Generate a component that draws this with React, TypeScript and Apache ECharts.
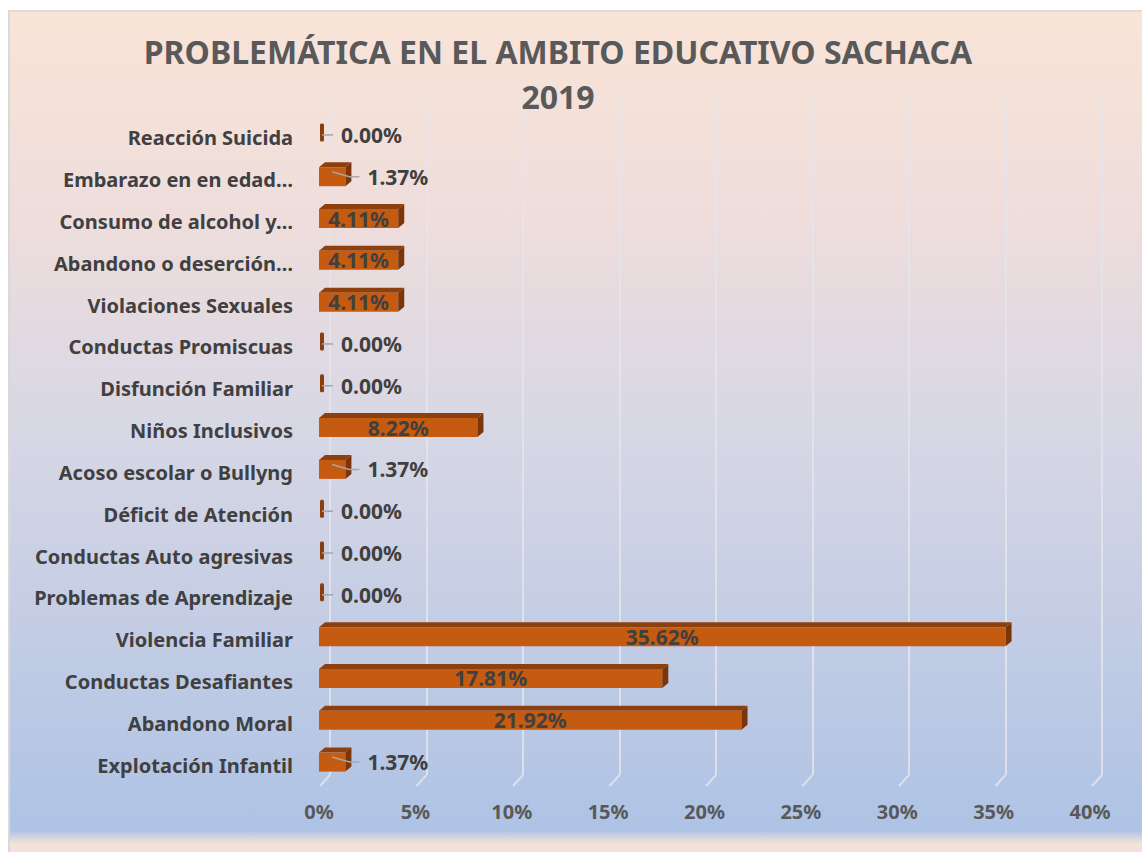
import React, { useEffect, useRef } from "react";
import * as echarts from "echarts";

const titleText = "PROBLEMÁTICA EN EL AMBITO EDUCATIVO SACHACA\n2019";

// bottom -> top
const categories = [
  "Explotación Infantil",
  "Abandono Moral",
  "Conductas Desafiantes",
  "Violencia Familiar",
  "Problemas de Aprendizaje",
  "Conductas Auto agresivas",
  "Déficit de Atención",
  "Acoso escolar o Bullyng",
  "Niños Inclusivos",
  "Disfunción Familiar",
  "Conductas Promiscuas",
  "Violaciones Sexuales",
  "Abandono o deserción…",
  "Consumo de alcohol y…",
  "Embarazo en en edad…",
  "Reacción Suicida",
];

const values = [1.37, 21.92, 17.81, 35.62, 0, 0, 0, 1.37, 8.22, 0, 0, 4.11, 4.11, 4.11, 1.37, 0];

const xTicks = [0, 5, 10, 15, 20, 25, 30, 35, 40];

const FONT = "'Noto Sans', 'DejaVu Sans', sans-serif";

export default function App() {
  const ref = useRef<HTMLDivElement>(null);

  useEffect(() => {
    document.body.style.margin = "0";
    const chart = echarts.init(ref.current!, undefined, { renderer: "svg" });

    const option: any = {
      animation: false,
      backgroundColor: "transparent",
      title: {
        text: titleText,
        left: 553,
        top: 24,
        textAlign: "center",
        textStyle: {
          fontFamily: FONT,
          fontSize: 32,
          fontWeight: "bold",
          color: "#595959",
          lineHeight: 45,
        },
      },
      grid: [
        { left: 319, right: 52, top: 117, bottom: 66 },
        { left: 330, right: 40, top: 100, bottom: 77 },
      ],
      xAxis: [
        {
          gridIndex: 0,
          type: "value",
          min: 0,
          max: 40,
          interval: 5,
          axisLine: { show: false },
          axisTick: { show: false },
          splitLine: { show: false },
          axisLabel: {
            formatter: "{value}%",
            fontFamily: FONT,
            fontSize: 20,
            fontWeight: "bold",
            color: "#595959",
            margin: 15,
          },
        },
        {
          gridIndex: 1,
          type: "value",
          min: 0,
          max: 40,
          interval: 5,
          axisLine: { show: false },
          axisTick: { show: false },
          axisLabel: { show: false },
          splitLine: {
            show: true,
            lineStyle: { color: "rgba(228,228,236,0.85)", width: 2 },
          },
        },
      ],
      yAxis: [
        {
          gridIndex: 0,
          type: "category",
          data: categories,
          axisLine: { show: false },
          axisTick: { show: false },
          splitLine: { show: false },
          axisLabel: {
            fontFamily: FONT,
            fontSize: 20,
            fontWeight: "bold",
            color: "#404040",
            margin: 26,
          },
        },
        {
          gridIndex: 1,
          type: "value",
          min: 0,
          max: 1,
          show: false,
        },
      ],
      series: [
        {
          type: "custom",
          xAxisIndex: 1,
          yAxisIndex: 1,
          data: xTicks.map((t) => [t, 0]),
          renderItem: (params: any, api: any) => {
            const p = api.coord([api.value(0), 0]);
            return {
              type: "line",
              shape: { x1: p[0], y1: p[1], x2: p[0] - 10, y2: p[1] + 11 },
              style: { stroke: "rgba(228,228,236,0.85)", lineWidth: 2 },
            };
          },
          silent: true,
          z: 1,
        },
        {
          type: "custom",
          xAxisIndex: 0,
          yAxisIndex: 0,
          data: values.map((v, i) => [i, v]),
          encode: { x: 1, y: 0 },
          z: 5,
          renderItem: (params: any, api: any) => {
            const cat = api.value(0);
            const v = api.value(1);
            const s = api.coord([0, cat]);
            const e = api.coord([v, cat]);
            const cy = s[1];
            const x0 = s[0];
            const x1 = e[0];
            const h = 19;
            const top = cy - 12.5;
            const bot = top + h;
            const dx = 6;
            const dy = 5;
            const children: any[] = [];
            if (v > 0) {
              children.push(
                {
                  type: "polygon",
                  shape: { points: [[x0, top], [x1, top], [x1 + dx, top - dy], [x0 + dx, top - dy]] },
                  style: { fill: "#8E3F0E" },
                },
                {
                  type: "rect",
                  shape: { x: x0, y: top, width: x1 - x0, height: h },
                  style: { fill: "#C55A11" },
                },
                {
                  type: "polygon",
                  shape: { points: [[x1, top], [x1 + dx, top - dy], [x1 + dx, bot - dy], [x1, bot]] },
                  style: { fill: "#7A350B" },
                }
              );
            } else {
              children.push({
                type: "rect",
                shape: { x: x0 + 1, y: top - 2, width: 4, height: h - 1, r: 1.5 },
                style: { fill: "#8A3E0E" },
              });
            }
            const label = v.toFixed(2) + "%";
            const ly = cy - 3;
            if (v >= 4) {
              children.push({
                type: "text",
                style: {
                  x: (x0 + x1) / 2,
                  y: ly,
                  text: label,
                  align: "center",
                  verticalAlign: "middle",
                  fill: "#404040",
                  font: `bold 21px ${FONT}`,
                },
              });
            } else {
              const ls = v > 0 ? (x0 + x1) / 2 : x0 + 3;
              const le = x1 + 14;
              children.push({
                type: "polyline",
                shape: { points: v > 0 ? [[ls, ly - 5], [x1 + 4, ly], [le, ly]] : [[ls, ly], [le, ly]] },
                style: { stroke: "#A6A6A6", lineWidth: 1.5, fill: "none" },
              });
              children.push({
                type: "text",
                style: {
                  x: le + 8,
                  y: ly,
                  text: label,
                  align: "left",
                  verticalAlign: "middle",
                  fill: "#404040",
                  font: `bold 21px ${FONT}`,
                },
              });
            }
            return { type: "group", children };
          },
        },
      ],
    };

    chart.setOption(option);
    return () => chart.dispose();
  }, []);

  return (
    <div style={{ position: "relative", width: 1142, height: 852, background: "#ffffff", overflow: "hidden" }}>
      <div
        style={{
          position: "absolute",
          left: 8,
          top: 10,
          right: 0,
          bottom: 0,
          borderLeft: "2px solid #D9D9D9",
          borderTop: "2px solid #DCDCDC",
          background:
            "linear-gradient(to bottom, #F9E4D7 0%, #EEDDDC 25%, #D7D7E5 50%, #C2CCE4 75%, #AEC3E5 97.4%, #F4E2DA 99%)",
        }}
      />
      <div ref={ref} style={{ position: "absolute", left: 0, top: 0, width: 1142, height: 852 }} />
    </div>
  );
}
